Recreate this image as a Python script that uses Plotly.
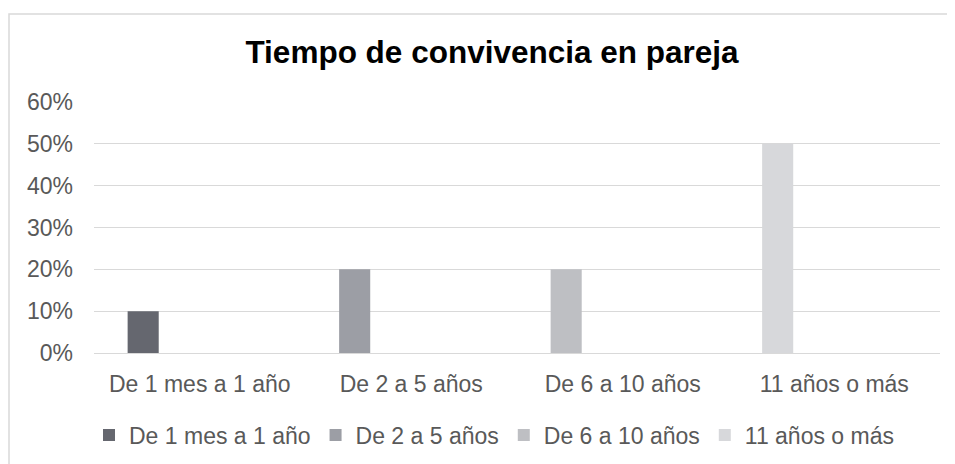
import plotly.graph_objects as go

categories = ["De 1 mes a 1 año", "De 2 a 5 años", "De 6 a 10 años", "11 años o más"]
values = [0.10, 0.20, 0.20, 0.50]
colors = ["#65676f", "#9c9ea5", "#bebfc3", "#d7d8db"]
y_ticks = [0, 0.1, 0.2, 0.3, 0.4, 0.5, 0.6]
y_tick_labels = ["0%", "10%", "20%", "30%", "40%", "50%", "60%"]
title_text = "Tiempo de convivencia en pareja"

FONT = "Liberation Sans, Arial, sans-serif"
TXT = "#595959"

# page has an 8px body margin: figure pixel = page pixel - 8
OFF = 8
W, H = 955 - OFF, 464 - OFF
L, R, T, B = 94 - OFF, 940 - OFF, 102 - OFF, 353 - OFF
pw, ph = R - L, B - T

def px2x(px):
    return (px - OFF - L) / pw

def px2y(py):
    return (B - (py - OFF)) / ph

fig = go.Figure()
for cat, val, col in zip(categories, values, colors):
    fig.add_trace(go.Bar(
        x=[cat], y=[val], name=cat,
        marker=dict(color=col, line=dict(width=0)),
        width=0.147, offset=-0.341,
        hoverinfo="x+y",
    ))

fig.update_layout(
    width=W, height=H,
    margin=dict(l=L, r=W - R, t=T, b=H - B, autoexpand=False),
    paper_bgcolor="white", plot_bgcolor="white",
    barmode="overlay",
    font=dict(family=FONT, color=TXT, size=23),
    title=dict(
        text="<b>" + title_text + "</b>",
        font=dict(family=FONT, size=31.5, color="black"),
        x=px2x(492), xref="paper", xanchor="center",
        y=1 - (52 - OFF) / H, yref="container", yanchor="middle",
    ),
    showlegend=True,
    legend=dict(
        orientation="h", x=px2x(494), xanchor="center",
        y=px2y(435), yanchor="middle",
        font=dict(family=FONT, size=23, color=TXT),
        itemwidth=30, tracegroupgap=0,
        bgcolor="rgba(0,0,0,0)",
    ),
    xaxis=dict(
        type="category", categoryorder="array", categoryarray=categories,
        showgrid=False, showline=False, zeroline=False, ticks="",
        tickfont=dict(family=FONT, size=23, color=TXT),
        ticklabelstandoff=15,
    ),
    yaxis=dict(
        range=[0, 0.6], tickvals=y_ticks, ticktext=y_tick_labels,
        showgrid=True, gridcolor="#d9d9d9", gridwidth=1,
        zeroline=True, zerolinecolor="#d9d9d9", zerolinewidth=1,
        showline=False, ticks="",
        tickfont=dict(family=FONT, size=23, color=TXT),
        ticklabelstandoff=20,
    ),
    shapes=[dict(
        type="rect", xref="paper", yref="paper",
        x0=px2x(9), x1=px2x(962), y0=px2y(470), y1=px2y(14),
        line=dict(color="#d9d9d9", width=1.5), fillcolor="rgba(0,0,0,0)",
        layer="below",
    )],
)

fig.write_html("out.html")
